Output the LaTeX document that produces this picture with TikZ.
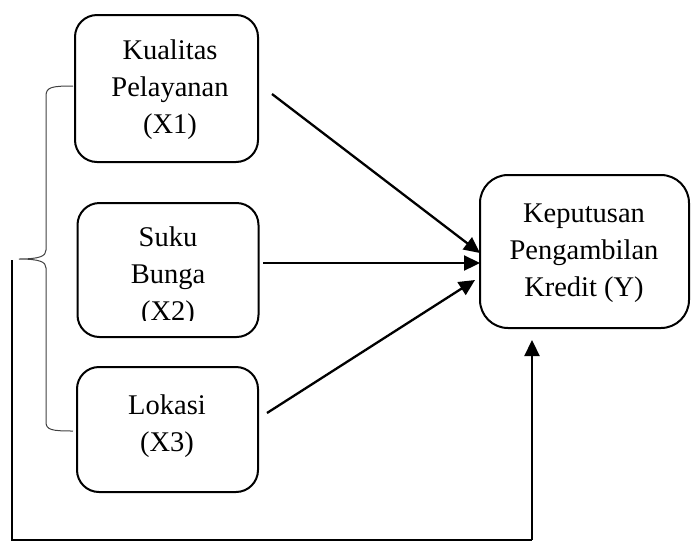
\documentclass[tikz,border=0pt]{standalone}
\usepackage{fontspec}
\setmainfont{Liberation Serif}
\usetikzlibrary{arrows.meta,calc}
\begin{document}
\begin{tikzpicture}[x=1pt,y=-1pt,
  box/.style={draw,line width=2pt,rounded corners=22pt,inner sep=0pt},
  lbl/.style={align=center,font=\fontsize{28.5}{37}\selectfont,inner sep=0pt},
  arr/.style={line width=2.3pt,-{Triangle[length=16pt,width=15pt]}},
  brace/.style={draw=black!75,line width=1pt},
  fb/.style={line width=1.3pt}]
\useasboundingbox (0,0) rectangle (691,542);
% boxes
\node[box,minimum width=183pt,minimum height=147pt] (x1) at (166.5,88.5) {};
\node[box,minimum width=181pt,minimum height=134pt] (x2) at (168,270) {};
\node[box,minimum width=181pt,minimum height=125pt] (x3) at (167.5,429.5) {};
\node[box,minimum width=209pt,minimum height=153pt,rounded corners=28pt] (y) at (584.5,251.5) {};
% texts
\node[lbl] (t1) at (170,90) {Kualitas\\Pelayanan\\(X1)};
\begin{scope}
\clip (80,206) rectangle (256,320.5);
\node[lbl] (t2) at (168,276.5) {Suku\\Bunga\\(X2)};
\end{scope}
\node[lbl] (t3) at (167,426) {Lokasi\\(X3)};
\node[lbl] (ty) at (584,253) {Keputusan\\Pengambilan\\Kredit (Y)};
% arrows
\coordinate (a1) at (272,94);
\coordinate (b1) at (480,253);
\coordinate (a2) at (263,263);
\coordinate (b2) at (480,263);
\coordinate (a3) at (267,413);
\coordinate (b3) at (475,280);
\draw[arr] (a1) -- (b1);
\draw[arr] (a2) -- (b2);
\draw[arr] (a3) -- (b3);
% brace
\coordinate (bt) at (73,86);
\coordinate (bm) at (19,259);
\coordinate (bb) at (73,431);
\draw[brace] (bt) .. controls (52,86) and (46,87) .. (46,96) -- (46,250)
  .. controls (46,256) and (40,259) .. (bm)
  .. controls (40,259) and (46,262) .. (46,268) -- (46,422)
  .. controls (46,430) and (52,431) .. (bb);
% feedback line
\coordinate (f0) at (12,260);
\coordinate (f1) at (12,540);
\coordinate (f2) at (532,540);
\draw[fb] (f0) -- (f1) -- (f2);
\draw[arr] (f2) -- (532,340);
\end{tikzpicture}
\end{document}
